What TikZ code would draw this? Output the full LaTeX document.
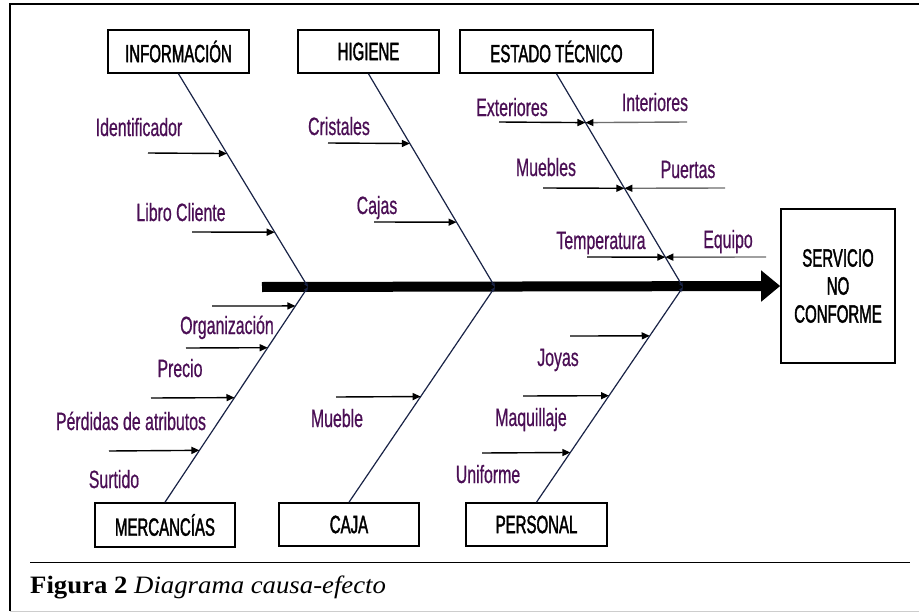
\documentclass[tikz,border=0pt]{standalone}
\usepackage{fontspec}
\setmainfont{Liberation Serif}
\newfontfamily\narrowlbl[FakeStretch=0.635,FakeBold=0.6]{Liberation Sans}
\newfontfamily\narrowbox[FakeStretch=0.6,FakeBold=1.6]{Liberation Sans}
\newfontfamily\capfont[FakeStretch=1.07]{Liberation Serif}
\usetikzlibrary{arrows.meta,calc}
\definecolor{lblcol}{RGB}{75,15,85}
\definecolor{bonecol}{RGB}{25,35,70}
\definecolor{graycol}{RGB}{110,110,110}
\definecolor{framegray}{RGB}{205,205,205}
\begin{document}
\begin{tikzpicture}[x=1pt,y=-1pt,
  catbox/.style={draw=black,line width=1.6pt,inner sep=0pt,minimum height=43pt,
    font=\narrowbox\fontsize{25}{28}\selectfont},
  lbl/.style={text=lblcol,inner sep=0pt,anchor=base,
    font=\narrowlbl\fontsize{25}{28}\selectfont},
  bone/.style={draw=bonecol,line width=1.2pt,-{Stealth[length=5pt,width=4pt]}},
  cause/.style={draw=black,line width=1.4pt,-{Triangle[length=8pt,width=7pt]}},
  causeg/.style={draw=graycol,line width=1.4pt,-{Triangle[length=8pt,width=7pt,color=black]}},
  spine/.style={draw=black,line width=10pt,-{Triangle[length=19pt,width=30pt]}},
]
\useasboundingbox (0,0) rectangle (919,613);
\fill[white] (0,0) rectangle (919,613);
% frame
\draw[framegray,line width=1pt] (10,611) -- (919,611);
\draw[black,line width=2pt] (919,4) -- (10,4) -- (10,611);

% category boxes
\node[catbox,minimum width=141pt] (INF) at (178.5,51.5) {INFORMACIÓN};
\node[catbox,minimum width=141pt] (HIG) at (368.5,51.5) {HIGIENE};
\node[catbox,minimum width=193pt] (EST) at (556.5,51.5) {ESTADO TÉCNICO};
\node[catbox,minimum width=140pt,minimum height=44pt] (MER) at (165,525) {MERCANCÍAS};
\node[catbox,minimum width=140pt] (CAJ) at (349,524.5) {CAJA};
\node[catbox,minimum width=141pt] (PER) at (536.5,524.5) {PERSONAL};
\node[catbox,minimum width=114pt,minimum height=154pt,align=center] (SRV) at (838,286)
  {SERVICIO\\NO\\CONFORME};

% spine
\coordinate (SP) at (262,287);
\coordinate (J1) at (308,287);
\coordinate (J2) at (495,287);
\coordinate (J3) at (683,287);
\draw[spine] (SP) -- (SRV.west);

% bones
\draw[bone] (INF.south) -- (J1);
\draw[bone] (HIG.south) -- (J2);
\draw[bone] (EST.south) -- (J3);
\draw[bone] (MER.north) -- (J1);
\draw[bone] (CAJ.north) -- (J2);
\draw[bone] (PER.north) -- (J3);

% labels
\node[lbl] (lIde) at (139,136) {Identificador};
\node[lbl] (lLib) at (181,221) {Libro Cliente};
\node[lbl] (lCri) at (339,135) {Cristales};
\node[lbl] (lCaj) at (377,214) {Cajas};
\node[lbl] (lExt) at (512,116) {Exteriores};
\node[lbl] (lInt) at (655,111) {Interiores};
\node[lbl] (lMue) at (546,176) {Muebles};
\node[lbl] (lPue) at (688,178) {Puertas};
\node[lbl] (lTem) at (601,249) {Temperatura};
\node[lbl] (lEqu) at (728,248) {Equipo};
\node[lbl] (lOrg) at (227,334) {Organización};
\node[lbl] (lPre) at (180,377) {Precio};
\node[lbl] (lPer) at (131,430) {Pérdidas de atributos};
\node[lbl] (lSur) at (114,488) {Surtido};
\node[lbl] (lMub) at (337,427) {Mueble};
\node[lbl] (lJoy) at (558,366) {Joyas};
\node[lbl] (lMaq) at (531,426) {Maquillaje};
\node[lbl] (lUni) at (488,483) {Uniforme};

% cause arrows: start points
\coordinate (sIde) at (148,153);
\coordinate (sLib) at (192,232);
\coordinate (sCri) at (328,143);
\coordinate (sCaj) at (374,222);
\coordinate (sExt) at (499,122);
\coordinate (sInt) at (687,122);
\coordinate (sMue) at (543,188);
\coordinate (sPue) at (725,188);
\coordinate (sTem) at (587,257);
\coordinate (sEqu) at (766,257);
\coordinate (sM1) at (212,306);
\coordinate (sM2) at (186,348);
\coordinate (sM3) at (151,398);
\coordinate (sM4) at (109,451);
\coordinate (sMub) at (336,397);
\coordinate (sJoy) at (570,336);
\coordinate (sMaq) at (523,396);
\coordinate (sUni) at (482,453);

\draw[cause] (sIde) -- ($(INF.south)!0.374!(J1)$);
\draw[cause] (sLib) -- ($(INF.south)!0.743!(J1)$);
\draw[cause] (sCri) -- ($(HIG.south)!0.327!(J2)$);
\draw[cause] (sCaj) -- ($(HIG.south)!0.696!(J2)$);
\draw[cause] (sExt) -- ($(EST.south)!0.229!(J3)$);
\draw[causeg] (sInt) -- ($(EST.south)!0.229!(J3)$);
\draw[cause] (sMue) -- ($(EST.south)!0.537!(J3)$);
\draw[causeg] (sPue) -- ($(EST.south)!0.537!(J3)$);
\draw[cause] (sTem) -- ($(EST.south)!0.86!(J3)$);
\draw[causeg] (sEqu) -- ($(EST.south)!0.86!(J3)$);
\draw[cause] (sM1) -- ($(MER.north)!0.912!(J1)$);
\draw[cause] (sM2) -- ($(MER.north)!0.718!(J1)$);
\draw[cause] (sM3) -- ($(MER.north)!0.486!(J1)$);
\draw[cause] (sM4) -- ($(MER.north)!0.241!(J1)$);
\draw[cause] (sMub) -- ($(CAJ.north)!0.491!(J2)$);
\draw[cause] (sJoy) -- ($(PER.north)!0.773!(J3)$);
\draw[cause] (sMaq) -- ($(PER.north)!0.495!(J3)$);
\draw[cause] (sUni) -- ($(PER.north)!0.231!(J3)$);

% caption
\draw[black,line width=1pt] (30,562) -- (910,562);
\node[anchor=base west,inner sep=0pt,font=\capfont\fontsize{25}{30}\selectfont] (CAP) at (30,593)
  {\textbf{Figura 2} \textit{Diagrama causa-efecto}};
\end{tikzpicture}
\end{document}
